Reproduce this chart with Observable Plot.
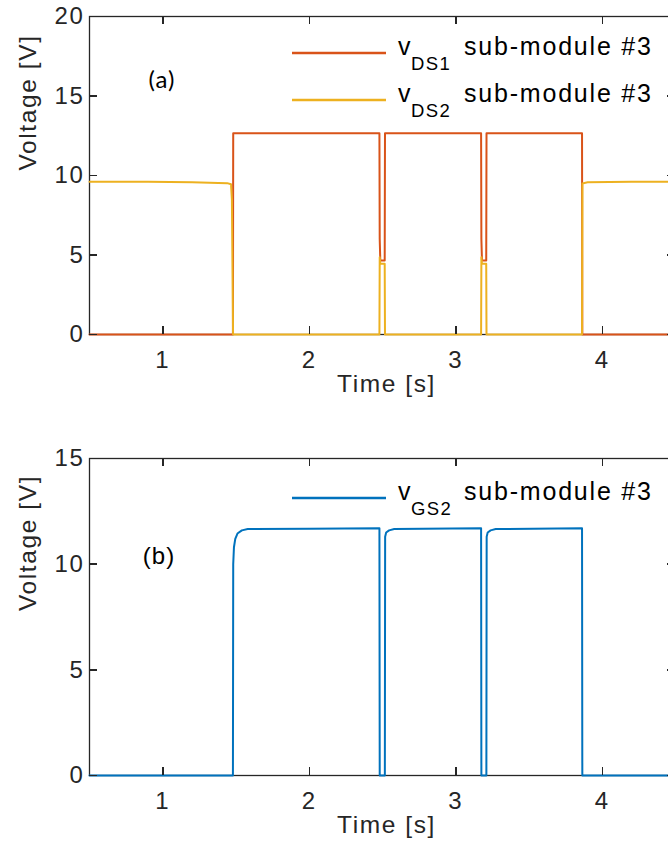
<!DOCTYPE html>
<html><head><meta charset="utf-8">
<script src="https://cdn.jsdelivr.net/npm/d3@7"></script>
<script src="https://cdn.jsdelivr.net/npm/@observablehq/plot@0.6"></script>
<style>
html,body{margin:0;padding:0;background:#fff;overflow:hidden;width:668px;height:852px}
#wrap{width:668px;height:852px;overflow:hidden;position:relative}
#wrap svg{display:block;max-width:none}
</style></head><body><div id="wrap"></div>
<script>
// ---- data ----
const xTicks = [1, 2, 3, 4];
const yTicksA = [0, 5, 10, 15, 20];
const yTicksB = [0, 5, 10, 15];

// panel (a): v_DS1 sub-module #3
const tDS1 = [0.5, 1.479, 1.481, 2.479, 2.481, 2.485, 2.515, 2.517, 3.173, 3.175, 3.179, 3.208, 3.210, 3.862, 3.864, 4.5];
const vDS1 = [0, 0, 12.65, 12.65, 6.0, 4.65, 4.65, 12.65, 12.65, 6.0, 4.65, 4.65, 12.65, 12.65, 0, 0];
// panel (a): v_DS2 sub-module #3
const tDS2 = [0.5, 0.9, 1.2, 1.44, 1.466, 1.472, 1.478, 1.48, 2.479, 2.481, 2.485, 2.515, 2.517, 3.173, 3.175, 3.179, 3.208, 3.210, 3.862, 3.865, 3.9, 4.2, 4.5];
const vDS2 = [9.6, 9.6, 9.57, 9.52, 9.45, 8.5, 2, 0, 0, 4.86, 4.45, 4.45, 0, 0, 4.86, 4.45, 4.45, 0, 0, 9.5, 9.57, 9.6, 9.6];
// panel (b): v_GS2 sub-module #3
const tGS2 = [0.5, 1.479, 1.481, 1.486, 1.495, 1.51, 1.54, 1.58, 2.0, 2.479, 2.481, 2.516, 2.518, 2.525, 2.545, 2.58, 3.173, 3.175, 3.209, 3.211, 3.218, 3.238, 3.273, 3.862, 3.864, 4.5];
const vGS2 = [0, 0, 10.0, 10.8, 11.2, 11.45, 11.6, 11.66, 11.68, 11.7, 0, 0, 11.3, 11.5, 11.6, 11.66, 11.7, 0, 0, 11.3, 11.5, 11.6, 11.66, 11.7, 0, 0];

const seriesNamesA = ["DS1", "DS2"];
const seriesNamesB = ["GS2"];
const legendSuffix = "sub-module #3";
const xLabel = "Time [s]";
const yLabel = "Voltage [V]";

// ---- styling ----
const AX = "#262626";
const FONT = "'Liberation Sans', Arial, Helvetica, sans-serif";
const C_ORANGE = "#D95319", C_YELLOW = "#EDB120", C_BLUE = "#0072BD";
const fmt = d3.format("d");
const W = 700, ML = 89, MR = 25, TICK = 8;

function rows(t, v) { return t.map((d, i) => ({t: d, v: v[i]})); }

function panel({series, yDomain, yTicks, height, mt, mb, labelDy}) {
  const fw = W - ML - MR, fh = height - mt - mb;
  const tk = {stroke: AX, strokeWidth: 1.5, shapeRendering: "crispEdges"};
  return Plot.plot({
    width: W, height,
    marginLeft: ML, marginRight: MR, marginTop: mt, marginBottom: mb,
    x: {domain: [0.5, 4.5], label: null},
    y: {domain: yDomain, label: null},
    style: {fontFamily: FONT, fontSize: "24px", letterSpacing: "1.6px", color: AX, background: "transparent", maxWidth: "none"},
    marks: [
      Plot.frame({stroke: AX, strokeWidth: 1.3}),
      Plot.axisX({anchor: "bottom", ticks: xTicks, tickFormat: fmt, tickSize: 0, tickPadding: 16, fill: AX, fontSize: 24, label: null}),
      Plot.axisY({anchor: "left", ticks: yTicks, tickFormat: fmt, tickSize: 0, tickPadding: 5, fill: AX, fontSize: 24, label: null}),
      Plot.text([xLabel], {frameAnchor: "bottom", dy: 57, dx: 4, fill: AX, fontSize: 24.5, text: d => d}),
      Plot.text([yLabel], {frameAnchor: "left", dx: -61, dy: labelDy, rotate: -90, fill: AX, fontSize: 24.5, text: d => d}),
      ...series.map(s => Plot.line(rows(s.t, s.v), {x: "t", y: "v", stroke: s.color, strokeWidth: 2})),
      // inward tick marks on all four sides (MATLAB box style)
      Plot.tickX(xTicks, {x: d => d, insetTop: fh - TICK, ...tk}),
      Plot.tickX(xTicks, {x: d => d, insetBottom: fh - TICK, ...tk}),
      Plot.tickY(yTicks, {y: d => d, insetRight: fw - TICK, ...tk}),
      Plot.tickY(yTicks, {y: d => d, insetLeft: fw - TICK, ...tk})
    ]
  });
}

function addLegend(svg, items) {
  const g = d3.select(svg).append("g").attr("text-anchor", "start");
  items.forEach(it => {
    g.append("line").attr("x1", 292).attr("x2", 386).attr("y1", it.y).attr("y2", it.y)
      .attr("stroke", it.color).attr("stroke-width", 2.4);
    g.append("text").attr("x", 398).attr("y", it.y + 2).attr("fill", "#000")
      .style("font-size", "25px").style("letter-spacing", "1px").text("v");
    g.append("text").attr("x", 411).attr("y", it.y + 17).attr("fill", "#000")
      .style("font-size", "18.5px").style("letter-spacing", "1.4px").text(it.sub);
    g.append("text").attr("x", 464).attr("y", it.y + 2).attr("fill", "#000")
      .style("font-size", "25px").style("letter-spacing", "1.8px").text(legendSuffix);
  });
}
function addTag(svg, label, x, y, font, size) {
  d3.select(svg).append("text").attr("x", x).attr("y", y).attr("text-anchor", "middle")
    .attr("dominant-baseline", "central").attr("fill", "#000")
    .style("font-family", font).style("font-size", size + "px").style("letter-spacing", "1px").text(label);
}

const wrap = document.getElementById("wrap");

const svgA = panel({
  series: [{t: tDS1, v: vDS1, color: C_ORANGE}, {t: tDS2, v: vDS2, color: C_YELLOW}],
  yDomain: [0, 20], yTicks: yTicksA, height: 420, mt: 16, mb: 86, labelDy: -5
});
addLegend(svgA, [{y: 53, color: C_ORANGE, sub: seriesNamesA[0]}, {y: 100, color: C_YELLOW, sub: seriesNamesA[1]}]);
addTag(svgA, "(a)", 162, 78, "Lato, 'Open Sans', sans-serif", 24);
wrap.appendChild(svgA);

const svgB = panel({
  series: [{t: tGS2, v: vGS2, color: C_BLUE}],
  yDomain: [0, 15], yTicks: yTicksB, height: 432, mt: 38, mb: 77, labelDy: -6
});
addLegend(svgB, [{y: 78, color: C_BLUE, sub: seriesNamesB[0]}]);
addTag(svgB, "(b)", 159, 135, FONT, 24);
wrap.appendChild(svgB);
</script>
</body></html>
